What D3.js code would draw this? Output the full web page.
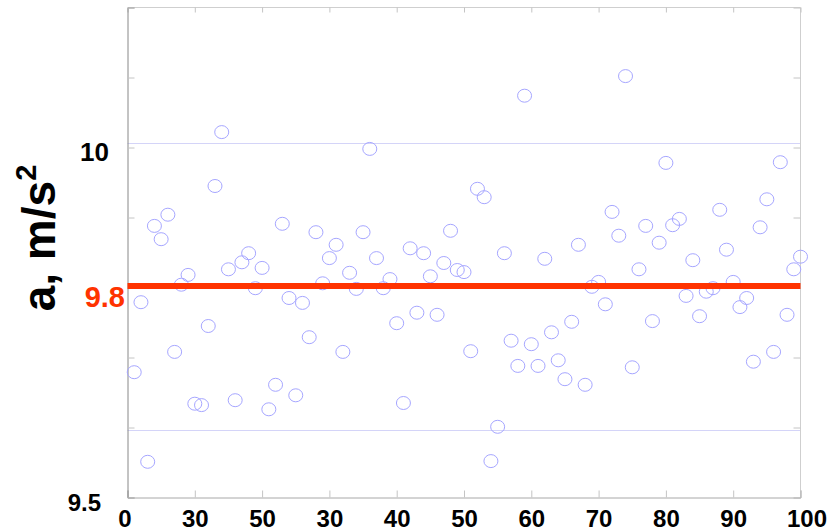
<!DOCTYPE html>
<html>
<head>
<meta charset="utf-8">
<script src="https://cdn.jsdelivr.net/npm/d3@7"></script>
<style>
  html, body { margin: 0; padding: 0; background: #fff; }
  svg { display: block; font-family: "Liberation Sans", Arial, sans-serif; }
</style>
</head>
<body>
<svg id="chart" width="834" height="532"></svg>
<script>
// ---- data ----
const sampleIndex = d3.range(1, 101);
const accel = [
  9.679, 9.779, 9.551, 9.888, 9.869, 9.904, 9.708, 9.804, 9.818, 9.634,
  9.632, 9.745, 9.945, 10.022, 9.826, 9.639, 9.836, 9.849, 9.799, 9.828,
  9.626, 9.661, 9.891, 9.785, 9.646, 9.778, 9.729, 9.879, 9.806, 9.842,
  9.861, 9.708, 9.821, 9.798, 9.879, 9.998, 9.842, 9.799, 9.812, 9.749,
  9.635, 9.856, 9.764, 9.849, 9.816, 9.761, 9.835, 9.881, 9.825, 9.822,
  9.709, 9.941, 9.929, 9.552, 9.601, 9.849, 9.724, 9.688, 10.074, 9.719,
  9.688, 9.841, 9.736, 9.696, 9.669, 9.751, 9.861, 9.661, 9.801, 9.808,
  9.776, 9.908, 9.874, 10.102, 9.686, 9.826, 9.888, 9.752, 9.864, 9.978,
  9.889, 9.898, 9.788, 9.839, 9.759, 9.794, 9.799, 9.911, 9.854, 9.808,
  9.772, 9.785, 9.694, 9.886, 9.926, 9.708, 9.979, 9.761, 9.826, 9.844
];
const referenceValue = 9.802;
const gridValues = [10.006, 9.597];
const xTickValues = [0, 10, 20, 30, 40, 50, 60, 70, 80, 90, 100];
const xTickLabels = ["0", "30", "50", "30", "40", "50", "60", "70", "80", "90", "100"];
const yTickValues = [9.5, 9.6, 9.7, 9.8, 9.9, 10.0, 10.1, 10.2];
const yLabelValues = [10, 9.8, 9.5];
const yLabelTexts = ["10", "9.8", "9.5"];
const yTitle = "a, m/s";
const yTitleSup = "2";

// ---- layout ----
const L = 127.5, R = 800.5, T = 7.5, B = 497.5;
const svg = d3.select("#chart");
svg.append("rect").attr("width", 834).attr("height", 532).attr("fill", "#fff");

const x = d3.scaleLinear().domain([0, 100]).range([L, R]);
const y = d3.scaleLinear().domain([9.5, 10.2]).range([B, T]);

// gridlines
svg.append("g").selectAll("line").data(gridValues).join("line")
  .attr("x1", L).attr("x2", R)
  .attr("y1", d => Math.round(y(d)) + 0.5).attr("y2", d => Math.round(y(d)) + 0.5)
  .attr("stroke", "#d4d4f8").attr("stroke-width", 1);

// frame
svg.append("line").attr("x1", L).attr("x2", R).attr("y1", T).attr("y2", T).attr("stroke", "#cfcfcf");
svg.append("line").attr("x1", R).attr("x2", R).attr("y1", T).attr("y2", B).attr("stroke", "#cfcfcf");

// top ticks
const topAxis = svg.append("g").attr("transform", `translate(0,${T})`)
  .call(d3.axisTop(x).tickValues(xTickValues).tickSize(-5).tickFormat(""));
topAxis.select(".domain").remove();
topAxis.selectAll("line").attr("stroke", "#c4c4c4");

// right ticks
const rightAxis = svg.append("g").attr("transform", `translate(${R},0)`)
  .call(d3.axisRight(y).tickValues(yTickValues).tickSize(-7).tickFormat(""));
rightAxis.select(".domain").remove();
rightAxis.selectAll("line").attr("stroke", "#c4c4c4");

// bottom axis
const bottomAxis = svg.append("g").attr("transform", `translate(0,${B})`)
  .call(d3.axisBottom(x).tickValues(xTickValues).tickSize(-7).tickPadding(12.5)
    .tickFormat((d, i) => xTickLabels[i]));
bottomAxis.select(".domain").attr("stroke", "#a8a8a8");
bottomAxis.selectAll("line").attr("stroke", "#c4c4c4");
bottomAxis.selectAll("text")
  .attr("font-family", "'Liberation Sans', Arial, sans-serif")
  .attr("font-size", 24).attr("font-weight", "bold").attr("fill", "#000");
bottomAxis.selectAll("text").filter(d => d === 100).attr("dx", 6);
bottomAxis.selectAll("text").filter(d => d === 0).attr("dx", -3);

// left ticks
const leftAxis = svg.append("g").attr("transform", `translate(${L},0)`)
  .call(d3.axisLeft(y).tickValues(yTickValues).tickSize(-7).tickFormat(""));
leftAxis.select(".domain").attr("stroke", "#888");
leftAxis.selectAll("line").attr("stroke", "#c4c4c4");

// left labels
const labelStyle = {
  "10":  {size: 26, fill: "#000", x: 109, base: 161},
  "9.8": {size: 29, fill: "#ff3300", x: 125, base: 307},
  "9.5": {size: 24, fill: "#000", x: 101, base: 511}
};
const labAxis = svg.append("g").attr("transform", `translate(0,0)`)
  .call(d3.axisLeft(y).tickValues(yLabelValues).tickSize(0)
    .tickFormat(d => yLabelTexts[yLabelValues.indexOf(d)]));
labAxis.select(".domain").remove();
labAxis.selectAll(".tick").attr("transform", null);
labAxis.selectAll("text").each(function(d) {
  const s = labelStyle[yLabelTexts[yLabelValues.indexOf(d)]];
  d3.select(this)
    .attr("x", s.x).attr("y", s.base).attr("dy", null)
    .attr("text-anchor", "end")
    .attr("font-family", "'Liberation Sans', Arial, sans-serif")
    .attr("font-size", s.size).attr("font-weight", "bold").attr("fill", s.fill);
});

// points
svg.append("g").selectAll("ellipse").data(accel).join("ellipse")
  .attr("cx", (d, i) => x(sampleIndex[i]))
  .attr("cy", d => y(d))
  .attr("rx", 7).attr("ry", 6.5)
  .attr("fill", "none")
  .attr("stroke", "#a6a6ff").attr("stroke-width", 1);

// reference line
svg.append("line")
  .attr("x1", L).attr("x2", R)
  .attr("y1", y(referenceValue)).attr("y2", y(referenceValue))
  .attr("stroke", "#ff3300").attr("stroke-width", 6);

// y title
const title = svg.append("text")
  .attr("transform", "translate(55,238) rotate(-90)")
  .attr("text-anchor", "middle")
  .attr("font-family", "'Liberation Sans', Arial, sans-serif")
  .attr("font-weight", "bold").attr("font-size", 46).attr("fill", "#000");
title.append("tspan").text(yTitle);
title.append("tspan").attr("font-size", 29).attr("dy", -19).text(yTitleSup);
</script>
</body>
</html>
